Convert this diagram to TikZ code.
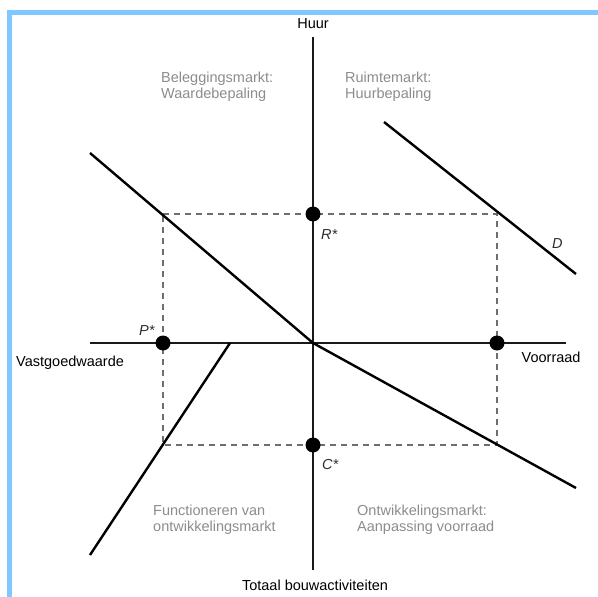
\documentclass[tikz,border=0pt]{standalone}
\usepackage{fontspec}
\setmainfont{Liberation Sans}
\definecolor{frameblue}{RGB}{128,200,255}
\definecolor{labelgray}{RGB}{140,140,140}
\definecolor{axisdark}{RGB}{25,25,25}
\definecolor{dashgray}{RGB}{110,110,110}
\definecolor{stargray}{RGB}{45,45,45}
\begin{document}
\begin{tikzpicture}[x=1pt,y=-1pt,
  axisline/.style={draw=axisdark,line width=2pt},
  curveline/.style={draw=black,line width=2.4pt},
  guide/.style={draw=dashgray,line width=1.2pt,dash pattern=on 6pt off 5pt},
  dotmark/.style={circle,fill=black,inner sep=0pt,minimum size=15pt},
  axislabel/.style={font=\fontsize{14.5}{16}\selectfont,text=black,inner sep=0pt},
  starlabel/.style={font=\fontsize{14.5}{16}\selectfont\itshape,text=stargray,inner sep=0pt},
  quadlabel/.style={font=\fontsize{14.5}{16.5}\selectfont,text=labelgray,inner sep=0pt,align=left,anchor=north west}
]
\useasboundingbox (0,0) rectangle (598,597);
% frame
\fill[frameblue] (7.3,10) rectangle (598,15.3);
\fill[frameblue] (7.3,10) rectangle (12,597);

% coordinates
\coordinate (O) at (313,343);
\coordinate (ytop) at (313,37);
\coordinate (ybot) at (313,570);
\coordinate (xleft) at (90,343);
\coordinate (xright) at (566,343);
\coordinate (a1) at (90,153);
\coordinate (b2) at (576,488);
\coordinate (c1) at (230,343);
\coordinate (c2) at (90,555);
\coordinate (d1) at (384,122);
\coordinate (d2) at (576,274);
\coordinate (TL) at (163,214);
\coordinate (TR) at (497,214);
\coordinate (BL) at (163,445);
\coordinate (BR) at (497,445);

% dashed rectangle
\draw[guide] (TL) -- (TR) -- (BR) -- (BL) -- cycle;

% axes
\draw[axisline] (ytop) -- (ybot);
\draw[axisline] (xleft) -- (xright);

% curves
\draw[curveline] (a1) -- (O) -- (b2);
\draw[curveline] (c1) -- (c2);
\draw[curveline] (d1) -- (d2);

% dots
\node[dotmark] (R) at (313,214) {};
\node[dotmark] (P) at (163,343) {};
\node[dotmark] (S) at (497,343) {};
\node[dotmark] (C) at (313,445) {};

% star labels
\node[starlabel,anchor=base west] (Rl) at (321,239) {R*};
\node[starlabel,anchor=base west] (Pl) at (139,335) {P*};
\node[starlabel,anchor=base west] (Cl) at (322,469) {C*};
\node[starlabel,anchor=base west] (Dl) at (552,248) {D};

% axis labels
\node[axislabel,anchor=base] (huur) at (313,28) {Huur};
\node[axislabel,anchor=base west] (vgw) at (16,366) {Vastgoedwaarde};
\node[axislabel,anchor=base west] (vrd) at (521.5,362) {Voorraad};
\node[axislabel,anchor=base] (tba) at (315,590) {Totaal bouwactiviteiten};

% quadrant labels
\node[quadlabel] (q1) at (161,71.5) {Beleggingsmarkt:\\Waardebepaling};
\node[quadlabel] (q2) at (345,71.5) {Ruimtemarkt:\\Huurbepaling};
\node[quadlabel] (q3) at (153,504.5) {Functioneren van\\ontwikkelingsmarkt};
\node[quadlabel] (q4) at (357,504.5) {Ontwikkelingsmarkt:\\Aanpassing voorraad};
\end{tikzpicture}
\end{document}
